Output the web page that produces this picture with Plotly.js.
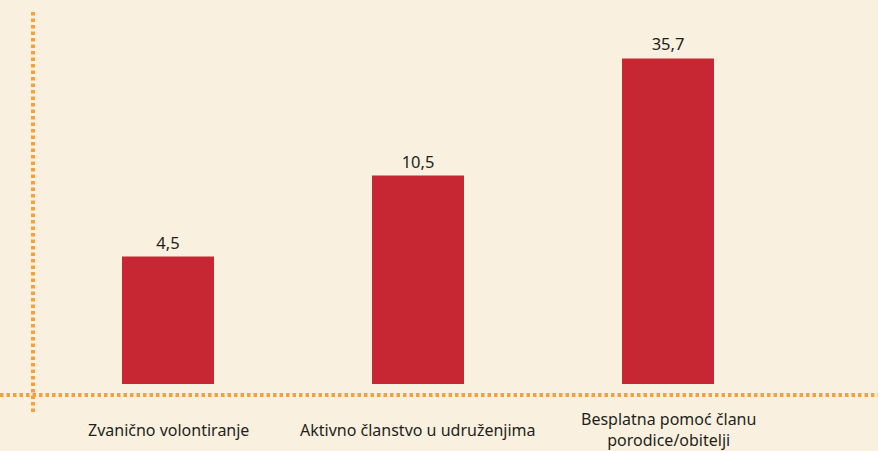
<!DOCTYPE html>
<html>
<head>
<meta charset="utf-8">
<script src="https://cdn.plot.ly/plotly-3.0.1.min.js"></script>
<style>html,body{margin:0;padding:0;background:#faf0df;}#chart{width:878px;height:451px;}</style>
</head>
<body>
<div id="chart"></div>
<script>
var categories = ["Zvanično volontiranje", "Aktivno članstvo u udruženjima", "Besplatna pomoć članu<br>porodice/obitelji"];
var values = [4.5, 10.5, 35.7];

var W = 878, H = 451;
var M = {l: 43, r: 85, t: 20, b: 67};
var pw = W - M.l - M.r, ph = H - M.t - M.b;
function px(x) { return (x - M.l) / pw; }
function py(y) { return (H - M.b - y) / ph; }

var dotColor = "#f6a03a";
var txt = "#231f20";
var font = "Noto Sans, Open Sans, sans-serif";

var trace = {
  type: "bar",
  x: categories,
  y: values,
  marker: {color: "#c62732"},
  texttemplate: "%{y:.1f}",
  textposition: "outside",
  textfont: {family: font, size: 16.5, color: txt},
  cliponaxis: false,
  hoverinfo: "skip"
};

var annotations = categories.map(function (c) {
  return {
    x: c, xref: "x", y: py(429.5), yref: "paper",
    text: c, showarrow: false, xanchor: "center", yanchor: "middle",
    font: {family: font, size: 16, color: txt}, align: "center"
  };
});

var layout = {
  width: W, height: H,
  margin: M,
  paper_bgcolor: "#faf0df",
  plot_bgcolor: "rgba(0,0,0,0)",
  separators: ",.",
  bargap: 0.632,
  showlegend: false,
  xaxis: {type: "category", range: [-0.5, 2.5], showticklabels: false, showgrid: false, zeroline: false, showline: false, ticks: ""},
  yaxis: {type: "log", range: [0.075, 1.727], showticklabels: false, showgrid: false, zeroline: false, showline: false, ticks: ""},
  annotations: annotations,
  shapes: [
    {type: "line", xref: "paper", yref: "paper", x0: px(0), x1: px(878), y0: py(395), y1: py(395),
     line: {color: dotColor, width: 4, dash: "3.5px,3px"}},
    {type: "line", xref: "paper", yref: "paper", x0: px(33), x1: px(33), y0: py(12), y1: py(413),
     line: {color: dotColor, width: 4, dash: "3.5px,3px"}}
  ]
};

Plotly.newPlot("chart", [trace], layout, {staticPlot: true, displayModeBar: false});
</script>
</body>
</html>
